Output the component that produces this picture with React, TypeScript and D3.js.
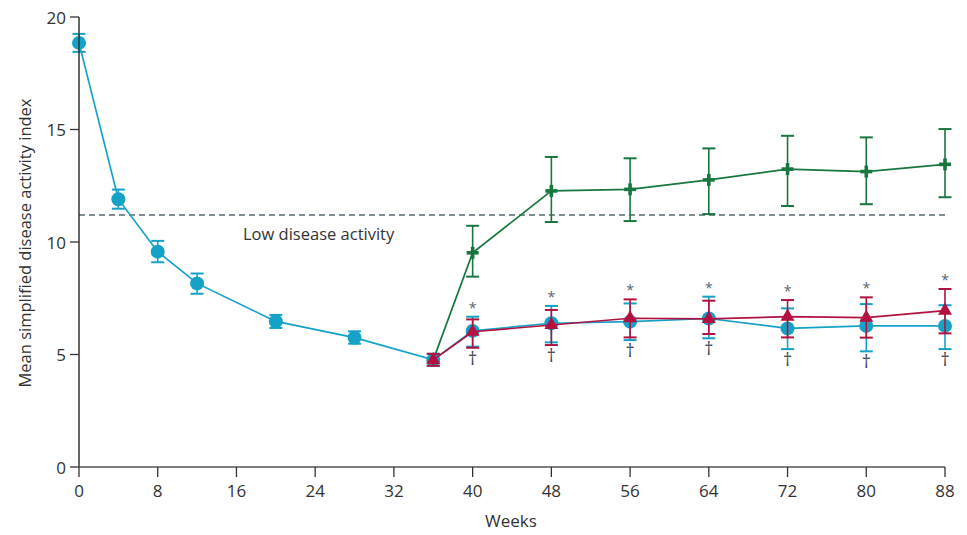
import React from "react";
import * as d3 from "d3";

const blueWeeks = [0, 4, 8, 12, 20, 28, 36, 40, 48, 56, 64, 72, 80, 88];
const blueMean = [18.85, 11.9, 9.57, 8.16, 6.47, 5.75, 4.76, 6.05, 6.39, 6.46, 6.6, 6.16, 6.27, 6.27];
const blueLow = [18.45, 11.48, 9.1, 7.7, 6.18, 5.48, 4.5, 5.35, 5.54, 5.64, 5.72, 5.24, 5.14, 5.24];
const blueHigh = [19.25, 12.33, 10.05, 8.6, 6.76, 6.03, 5.03, 6.68, 7.16, 7.27, 7.57, 7.05, 7.24, 7.19];

const laterWeeks = [36, 40, 48, 56, 64, 72, 80, 88];
const redMean = [4.76, 6.01, 6.31, 6.61, 6.58, 6.68, 6.64, 6.95];
const redLow = [4.5, 5.3, 5.42, 5.76, 5.91, 5.76, 5.75, 5.94];
const redHigh = [5.03, 6.56, 6.98, 7.45, 7.39, 7.42, 7.54, 7.91];

const greenMean = [4.76, 9.52, 12.27, 12.34, 12.76, 13.24, 13.13, 13.45];
const greenLow = [4.5, 8.46, 10.89, 10.93, 11.24, 11.6, 11.68, 11.99];
const greenHigh = [5.03, 10.72, 13.78, 13.72, 14.16, 14.72, 14.65, 15.02];

const markWeeks = [40, 48, 56, 64, 72, 80, 88];
const xTicks = [0, 8, 16, 24, 32, 40, 48, 56, 64, 72, 80, 88];
const yTicks = [0, 5, 10, 15, 20];
const lowActivity = 11.2;

const BLUE = "#14a2c7";
const RED = "#b3113f";
const GREEN = "#17773f";
const FONT = "'Open Sans', sans-serif";

export default function App() {
  const x = d3.scaleLinear().domain([0, 88]).range([79, 945]);
  const y = d3.scaleLinear().domain([0, 20]).range([467, 17]);
  const line = d3
    .line<[number, number]>()
    .x((d) => x(d[0]))
    .y((d) => y(d[1]));

  const bluePts: [number, number][] = blueWeeks.map((w, i) => [w, blueMean[i]]);
  const redPts: [number, number][] = laterWeeks.map((w, i) => [w, redMean[i]]);
  const greenPts: [number, number][] = laterWeeks.map((w, i) => [w, greenMean[i]]);

  const errBar = (wx: number, lo: number, hi: number, color: string, key: string) => (
    <g key={key} stroke={color} strokeWidth={1.6}>
      <line x1={x(wx)} x2={x(wx)} y1={y(lo)} y2={y(hi)} />
      <line x1={x(wx) - 6.5} x2={x(wx) + 6.5} y1={y(lo)} y2={y(lo)} strokeWidth={2} />
      <line x1={x(wx) - 6.5} x2={x(wx) + 6.5} y1={y(hi)} y2={y(hi)} strokeWidth={2} />
    </g>
  );

  const tri = d3.symbol().type(d3.symbolTriangle).size(85)();

  return (
    <svg
      width={967}
      height={535}
      style={{ position: "absolute", left: 0, top: 0, background: "#fff" }}
      fontFamily={FONT}
    >
      {/* low disease activity */}
      <line
        x1={x(0)}
        x2={x(88)}
        y1={y(lowActivity)}
        y2={y(lowActivity)}
        stroke="#56676e"
        strokeWidth={1.4}
        strokeDasharray="6,4"
      />
      <text x={243} y={240} fontSize={16.5} fill="#333">
        Low disease activity
      </text>

      {/* green series */}
      <path d={line(greenPts) || ""} fill="none" stroke={GREEN} strokeWidth={1.7} />
      {laterWeeks.map((w, i) => (i > 0 ? errBar(w, greenLow[i], greenHigh[i], GREEN, "ge" + i) : null))}
      {laterWeeks.map((w, i) => (
        <g key={"gp" + i} stroke={GREEN} strokeWidth={3.6}>
          <line x1={x(w) - 6} x2={x(w) + 6} y1={y(greenMean[i])} y2={y(greenMean[i])} />
          <line x1={x(w)} x2={x(w)} y1={y(greenMean[i]) - 6} y2={y(greenMean[i]) + 6} />
        </g>
      ))}

      {/* blue series */}
      <path d={line(bluePts) || ""} fill="none" stroke={BLUE} strokeWidth={1.7} />
      {blueWeeks.map((w, i) => errBar(w, blueLow[i], blueHigh[i], BLUE, "be" + i))}
      {blueWeeks.map((w, i) => (
        <circle key={"bc" + i} cx={x(w)} cy={y(blueMean[i])} r={7} fill={BLUE} />
      ))}

      {/* red series */}
      <path d={line(redPts) || ""} fill="none" stroke={RED} strokeWidth={1.7} />
      {laterWeeks.map((w, i) => errBar(w, redLow[i], redHigh[i], RED, "re" + i))}
      {laterWeeks.map((w, i) => (
        <path
          key={"rt" + i}
          d={tri || ""}
          transform={`translate(${x(w)},${y(redMean[i])})`}
          fill={RED}
        />
      ))}

      {/* significance marks */}
      {markWeeks.map((w) => {
        const i = laterWeeks.indexOf(w);
        const j = blueWeeks.indexOf(w);
        const top = Math.min(y(redHigh[i]), y(blueHigh[j]));
        const bot = Math.max(y(redLow[i]), y(blueLow[j]));
        return (
          <g key={"m" + w}>
            <text x={x(w)} y={top - 4} textAnchor="middle" fontSize={14} fill="#5a6470">
              *
            </text>
            <text x={x(w)} y={bot + 17} textAnchor="middle" fontSize={18} fill="#3d4658">
              †
            </text>
          </g>
        );
      })}

      {/* axes */}
      <line x1={x(0)} x2={x(0)} y1={y(0)} y2={y(20)} stroke="#333" strokeWidth={1.5} />
      <line x1={x(0)} x2={x(88)} y1={y(0)} y2={y(0)} stroke="#555" strokeWidth={1.5} />
      {yTicks.map((t) => (
        <g key={"yt" + t}>
          <line x1={x(0) - 9} x2={x(0)} y1={y(t)} y2={y(t)} stroke="#333" strokeWidth={1.3} />
          <text
            x={x(0) - 13}
            y={y(t)}
            textAnchor="end"
            dominantBaseline="central"
            fontSize={17}
            fill="#333"
          >
            {t}
          </text>
        </g>
      ))}
      {xTicks.map((t) => (
        <g key={"xt" + t}>
          <line x1={x(t)} x2={x(t)} y1={y(0)} y2={y(0) + 10} stroke="#333" strokeWidth={1.3} />
          <text x={x(t)} y={497} textAnchor="middle" fontSize={17} fill="#333">
            {t}
          </text>
        </g>
      ))}
      <text x={511} y={527} textAnchor="middle" fontSize={17} fill="#333">
        Weeks
      </text>
      <text
        transform="translate(31,243) rotate(-90)"
        textAnchor="middle"
        fontSize={16.5}
        fill="#333"
      >
        Mean simplified disease activity index
      </text>
    </svg>
  );
}
